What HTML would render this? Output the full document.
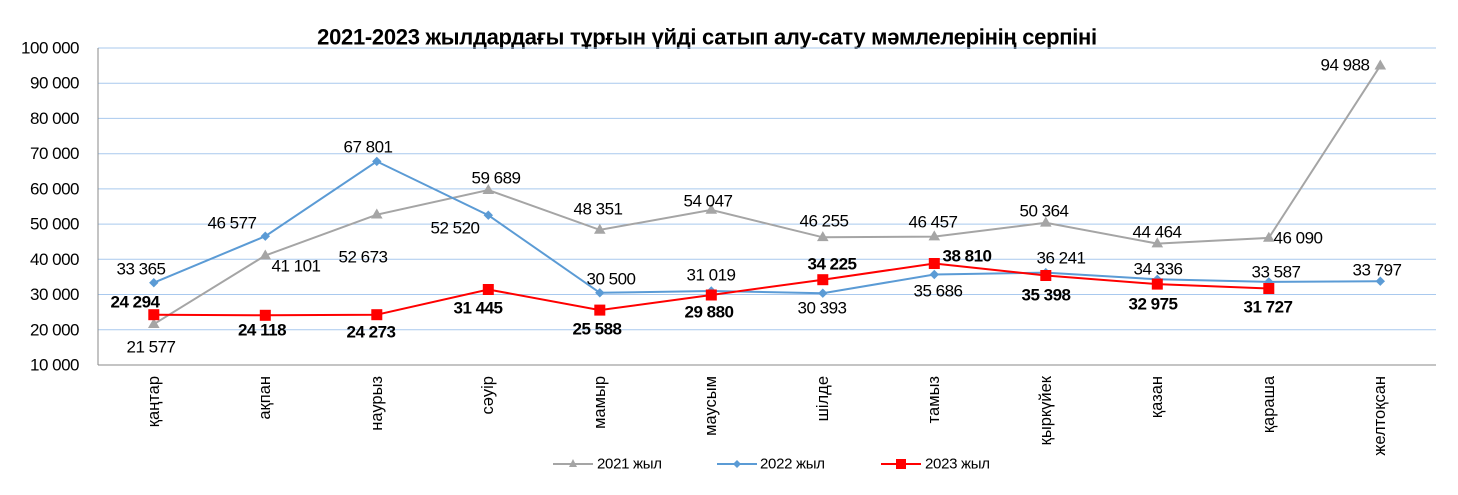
<!DOCTYPE html>
<html><head><meta charset="utf-8"><style>
body{margin:0;background:#fff;}
svg{display:block;font-family:"Liberation Sans",sans-serif;}
.v{font-size:17px;fill:#000;text-anchor:middle;dominant-baseline:central;letter-spacing:-0.5px}
.b{font-weight:bold}
.y{font-size:17px;text-anchor:end;dominant-baseline:central;letter-spacing:-0.5px}
.x{font-size:16.5px;text-anchor:end;dominant-baseline:central}
</style></head><body>
<svg width="1458" height="495" viewBox="0 0 1458 495">
<text x="707" y="37" font-size="22" font-weight="bold" text-anchor="middle" dominant-baseline="central" letter-spacing="-0.3">2021-2023 жылдардағы тұрғын үйді сатып алу-сату мәмлелерінің серпіні</text>
<g stroke="#a9c9ee" stroke-width="1">
<line x1="98" y1="48" x2="1436" y2="48"/><line x1="98" y1="83.2" x2="1436" y2="83.2"/><line x1="98" y1="118.4" x2="1436" y2="118.4"/><line x1="98" y1="153.7" x2="1436" y2="153.7"/><line x1="98" y1="188.9" x2="1436" y2="188.9"/><line x1="98" y1="224.1" x2="1436" y2="224.1"/><line x1="98" y1="259.3" x2="1436" y2="259.3"/><line x1="98" y1="294.5" x2="1436" y2="294.5"/><line x1="98" y1="329.8" x2="1436" y2="329.8"/>
</g>
<g stroke="#888" stroke-width="1"><line x1="98" y1="48" x2="98" y2="365"/><line x1="98" y1="365" x2="1436" y2="365"/></g>
<g class="y"><text x="79" y="48">100 000</text><text x="79" y="83.2">90 000</text><text x="79" y="118.4">80 000</text><text x="79" y="153.7">70 000</text><text x="79" y="188.9">60 000</text><text x="79" y="224.1">50 000</text><text x="79" y="259.3">40 000</text><text x="79" y="294.5">30 000</text><text x="79" y="329.8">20 000</text><text x="79" y="365">10 000</text></g>
<g class="x">
<text transform="translate(154,376) rotate(-90)">қаңтар</text>
<text transform="translate(265,376) rotate(-90)">ақпан</text>
<text transform="translate(377,376) rotate(-90)">наурыз</text>
<text transform="translate(488,376) rotate(-90)">сәуір</text>
<text transform="translate(600,376) rotate(-90)">мамыр</text>
<text transform="translate(711,376) rotate(-90)">маусым</text>
<text transform="translate(823,376) rotate(-90)">шілде</text>
<text transform="translate(934,376) rotate(-90)">тамыз</text>
<text transform="translate(1046,376) rotate(-90)">қыркүйек</text>
<text transform="translate(1157,376) rotate(-90)">қазан</text>
<text transform="translate(1269,376) rotate(-90)">қараша</text>
<text transform="translate(1380,376) rotate(-90)">желтоқсан</text>
</g>
<polyline fill="none" stroke="#a5a5a5" stroke-width="2" points="153.8,324.2 265.3,255.5 376.8,214.7 488.3,190 599.8,229.9 711.3,209.9 822.8,237.3 934.3,236.6 1045.8,222.8 1157.3,243.6 1268.8,237.9 1380.3,65.7"/>
<g fill="#a5a5a5">
<polygon points="153.8,318 148,328 159.6,328"/><polygon points="265.3,249.5 259.5,259.5 271.1,259.5"/><polygon points="376.8,208.5 371,218.5 382.6,218.5"/><polygon points="488.3,184 482.5,194 494.1,194"/><polygon points="599.8,223.7 594,233.7 605.6,233.7"/><polygon points="711.3,203.7 705.5,213.7 717.1,213.7"/><polygon points="822.8,231.1 817,241.1 828.6,241.1"/><polygon points="934.3,230.4 928.5,240.4 940.1,240.4"/><polygon points="1045.8,216.6 1040,226.6 1051.6,226.6"/><polygon points="1157.3,237.4 1151.5,247.4 1163.1,247.4"/><polygon points="1268.8,231.7 1263,241.7 1274.6,241.7"/><polygon points="1380.3,59.5 1374.5,69.5 1386.1,69.5"/>
</g>
<polyline fill="none" stroke="#5b9bd5" stroke-width="2" points="153.8,282.7 265.3,236.2 376.8,161.4 488.3,215.2 599.8,292.8 711.3,291 822.8,293.2 934.3,274.5 1045.8,272.6 1157.3,279.3 1268.8,281.9 1380.3,281.2"/>
<g fill="#5b9bd5">
<polygon points="153.8,278 158.5,282.7 153.8,287.4 149.1,282.7"/><polygon points="265.3,231.5 270,236.2 265.3,240.9 260.6,236.2"/><polygon points="376.8,156.7 381.5,161.4 376.8,166.1 372.1,161.4"/><polygon points="488.3,210.5 493,215.2 488.3,219.9 483.6,215.2"/><polygon points="599.8,288.1 604.5,292.8 599.8,297.5 595.1,292.8"/><polygon points="711.3,286.3 716,291 711.3,295.7 706.6,291"/><polygon points="822.8,288.5 827.5,293.2 822.8,297.9 818.1,293.2"/><polygon points="934.3,269.8 939,274.5 934.3,279.2 929.6,274.5"/><polygon points="1045.8,267.9 1050.5,272.6 1045.8,277.3 1041.1,272.6"/><polygon points="1157.3,274.6 1162,279.3 1157.3,284 1152.6,279.3"/><polygon points="1268.8,277.2 1273.5,281.9 1268.8,286.6 1264.1,281.9"/><polygon points="1380.3,276.5 1385,281.2 1380.3,285.9 1375.6,281.2"/>
</g>
<polyline fill="none" stroke="#ff0000" stroke-width="2" points="153.8,314.7 265.3,315.3 376.8,314.7 488.3,289.5 599.8,310.1 711.3,295 822.8,279.7 934.3,263.5 1045.8,275.5 1157.3,284.1 1268.8,288.5"/>
<g fill="#ff0000">
<rect x="148.3" y="309.2" width="11" height="11"/><rect x="259.8" y="309.8" width="11" height="11"/><rect x="371.3" y="309.2" width="11" height="11"/><rect x="482.8" y="284" width="11" height="11"/><rect x="594.3" y="304.6" width="11" height="11"/><rect x="705.8" y="289.5" width="11" height="11"/><rect x="817.3" y="274.2" width="11" height="11"/><rect x="928.8" y="258" width="11" height="11"/><rect x="1040.3" y="270" width="11" height="11"/><rect x="1151.8" y="278.6" width="11" height="11"/><rect x="1263.3" y="283" width="11" height="11"/>
</g>
<g class="v">
<text x="151" y="347">21 577</text><text x="296" y="266">41 101</text><text x="363" y="257">52 673</text><text x="496" y="178">59 689</text><text x="598" y="209">48 351</text><text x="708" y="201">54 047</text><text x="824" y="221">46 255</text><text x="933" y="222">46 457</text><text x="1044" y="211">50 364</text><text x="1157" y="232">44 464</text><text x="1298" y="238">46 090</text><text x="1345" y="65">94 988</text>
<text x="141" y="269">33 365</text><text x="232" y="223">46 577</text><text x="368" y="147">67 801</text><text x="455" y="228">52 520</text><text x="611" y="279">30 500</text><text x="711" y="275">31 019</text><text x="822" y="308">30 393</text><text x="938" y="291">35 686</text><text x="1061" y="258">36 241</text><text x="1158" y="269">34 336</text><text x="1276" y="272">33 587</text><text x="1377" y="270">33 797</text>
</g>
<g class="v b">
<text x="135" y="302">24 294</text><text x="262" y="330">24 118</text><text x="371" y="332">24 273</text><text x="478" y="308">31 445</text><text x="597" y="329">25 588</text><text x="709" y="312">29 880</text><text x="832" y="264">34 225</text><text x="967" y="256">38 810</text><text x="1046" y="295">35 398</text><text x="1153" y="304">32 975</text><text x="1268" y="307">31 727</text>
</g>
<g font-size="15" dominant-baseline="central" letter-spacing="-0.3">
<line x1="553" y1="464" x2="593" y2="464" stroke="#a5a5a5" stroke-width="2"/><polygon points="573,459 569,467 577,467" fill="#a5a5a5"/><text x="597" y="464">2021 жыл</text>
<line x1="717" y1="464" x2="757" y2="464" stroke="#5b9bd5" stroke-width="2"/><polygon points="737,460 741,464 737,468 733,464" fill="#5b9bd5"/><text x="760" y="464">2022 жыл</text>
<line x1="881" y1="464" x2="921" y2="464" stroke="#ff0000" stroke-width="2"/><rect x="896" y="459" width="10" height="10" fill="#ff0000"/><text x="925" y="464">2023 жыл</text>
</g>
</svg>
</body></html>
